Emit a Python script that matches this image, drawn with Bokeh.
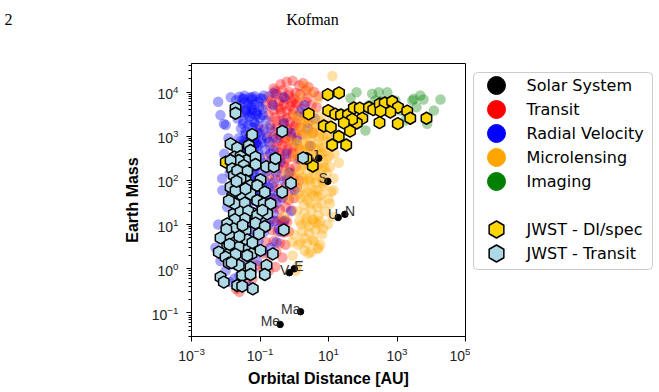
import math

from bokeh.core.properties import value
from bokeh.embed import file_html
from bokeh.layouts import column, row
from bokeh.models import ColumnDataSource, FixedTicker, Range1d
from bokeh.plotting import figure
from bokeh.resources import INLINE

# ---------------------------------------------------------------- data
# Solar System planets: orbital distance [AU], mass [Earth masses]
solar_names = ["Me", "V", "E", "Ma", "J", "S", "U", "N"]
solar_au = [0.387, 0.723, 1.0, 1.524, 5.20, 9.54, 19.2, 30.1]
solar_mass = [0.055, 0.815, 1.0, 0.107, 317.8, 95.2, 14.5, 17.1]

# Known exoplanets by discovery method
transit_au = [
    0.25, 0.4, 0.6, 0.9, 1.4, 2.2,
    0.18, 0.3, 0.45, 0.7, 1.0, 1.5, 2.5,
    0.15, 0.22, 0.35, 0.5, 0.75, 1.1, 1.7,
    0.18, 0.28, 0.42, 0.6, 0.9, 1.3, 2.0,
    0.2, 0.32, 0.48, 0.7, 1.0, 1.5,
    0.16, 0.25, 0.38, 0.55, 0.8, 1.2, 1.8,
    0.2, 0.3, 0.45, 0.65, 0.95, 1.4,
    0.17, 0.26, 0.4, 0.6, 0.9, 1.3,
    0.22, 0.34, 0.5, 0.75, 1.1,
    0.18, 0.28, 0.42, 0.62, 0.95, 1.4,
    0.24, 0.36, 0.55, 0.8, 1.2,
    0.2, 0.3, 0.46, 0.7, 1.0,
    0.25, 0.38, 0.56, 0.85,
    0.32, 0.4, 0.45, 0.55, 0.62, 0.2,
    0.22, 0.33, 0.5, 0.7,
    0.15, 0.25, 0.38, 0.55,
    0.12, 0.2, 0.3, 0.45,
    0.08, 0.12, 0.18, 0.28,
    0.02, 0.025, 0.04, 0.06, 0.03,
    0.04, 0.05, 0.06, 0.08, 0.1, 0.07,
    2.5, 3.5, 2.8, 3.2,
    0.28, 0.45, 0.7, 1.1, 0.22, 0.36, 0.55, 0.85, 1.3, 0.25,
    0.4, 0.62, 0.95, 0.3, 0.48, 0.75, 1.15, 0.26, 0.42, 0.65,
    1.0, 0.33, 0.52, 0.8, 0.36, 0.58, 0.9, 0.3, 0.5, 0.78,
    1.8, 2.6, 3.8, 5.0, 2.2, 3.2, 4.5,
]
transit_mass = [
    12000, 15000, 17000, 18000, 14000, 11000,
    8000, 9000, 7500, 8500, 7000, 9000, 7500,
    5000, 5500, 4500, 5200, 4800, 5500, 4200,
    3000, 2700, 3300, 2600, 3100, 2800, 3000,
    1800, 1600, 1900, 1500, 1700, 1600,
    1000, 950, 1050, 900, 1000, 950, 1100,
    600, 550, 620, 500, 580, 520,
    350, 320, 360, 300, 340, 310,
    200, 190, 210, 180, 200,
    120, 110, 125, 105, 115, 100,
    70, 65, 72, 60, 68,
    40, 38, 42, 36, 40,
    24, 22, 25, 21,
    12, 13, 11, 12.5, 11.5, 13,
    7.5, 7, 6.5, 7,
    4, 4.2, 3.8, 3.5,
    2.2, 2.0, 2.4, 1.8,
    1.2, 1.0, 0.9, 1.1,
    0.35, 0.3, 0.5, 0.6, 0.45,
    500, 1000, 300, 700, 1500, 200,
    2000, 1200, 600, 250,
    10500, 11000, 10000, 9500, 6500, 6200, 6800, 6000, 5800, 3900,
    4100, 3700, 4000, 2200, 2300, 2100, 2000, 1300, 1250, 1350,
    1200, 780, 750, 800, 430, 450, 420, 260, 250, 150,
    16000, 13000, 10000, 8000, 6000, 5000, 4500,
]

rv_au = [
    0.014, 0.034, 0.059, 0.116, 0.13, 0.24, 0.5, 0.006, 0.25,
    0.02, 0.03, 0.045, 0.06, 0.09,
    0.025, 0.04, 0.055, 0.08, 0.12,
    0.022, 0.033, 0.05, 0.07, 0.1, 0.15,
    0.028, 0.038, 0.06, 0.085, 0.13, 0.2,
    0.024, 0.035, 0.05, 0.075, 0.11, 0.18, 0.3,
    0.03, 0.045, 0.065, 0.09, 0.14, 0.25,
    0.026, 0.04, 0.055, 0.08, 0.12, 0.22, 0.4,
    0.032, 0.048, 0.07, 0.1, 0.16, 0.3,
    0.028, 0.042, 0.06, 0.09, 0.14, 0.25, 0.5,
    0.035, 0.05, 0.075, 0.11, 0.2, 0.35,
    0.03, 0.045, 0.065, 0.1, 0.15, 0.3,
    0.038, 0.055, 0.08, 0.12, 0.25,
    0.03, 0.045, 0.07, 0.1, 0.18,
    0.035, 0.055, 0.08, 0.13, 0.04, 0.06, 0.09,
    0.007, 0.01, 0.012, 0.009, 0.013, 0.008, 0.011, 0.0088, 0.0079,
    0.006, 0.008, 0.005, 0.007, 0.01, 0.013,
    0.015, 0.02, 0.025, 0.03, 0.05, 0.04, 0.018, 0.06, 0.08, 0.12,
    0.5, 0.8, 1.2, 0.6, 1.5, 2.5, 0.7, 1.0, 0.45,
    0.8, 0.5, 0.4, 0.3, 0.2, 3.0, 4.0, 2.0, 1.5,
    0.027, 0.036, 0.05, 0.068, 0.095, 0.042, 0.058, 0.078, 0.032, 0.046,
    0.064, 0.088, 0.038, 0.052, 0.072, 0.1, 0.03, 0.044, 0.062, 0.085,
    0.036, 0.05, 0.07, 0.098, 0.028, 0.04, 0.056, 0.076, 0.034, 0.048,
    0.066, 0.09, 0.16, 0.2, 0.28, 0.18, 0.22, 0.14, 0.26, 0.35,
    0.025, 0.035, 0.05, 0.07, 0.1, 0.03, 0.042, 0.06, 0.085, 0.12,
    0.028, 0.04, 0.055, 0.078, 0.11, 0.033, 0.047, 0.066, 0.094, 0.13,
]
rv_mass = [
    7600, 7000, 7600, 7000, 8300, 5000, 7600, 6000, 9500,
    6500, 7000, 5500, 6800, 6000,
    4200, 3800, 4500, 3500, 4100,
    2500, 2200, 2800, 2000, 2600, 2300,
    1500, 1300, 1600, 1200, 1400, 1500,
    900, 800, 950, 700, 850, 750, 900,
    500, 450, 550, 420, 500, 480,
    300, 260, 320, 280, 250, 300, 260,
    170, 150, 180, 140, 160, 150,
    95, 90, 100, 85, 95, 90, 100,
    55, 50, 60, 48, 55, 50,
    32, 30, 35, 28, 33, 30,
    18, 20, 17, 19, 18,
    11, 12, 10, 11, 10,
    6.5, 7, 6, 6.8, 4, 3.8, 4.2,
    3000, 1800, 900, 400, 150, 60, 25, 1900, 110,
    10, 5, 3, 1.5, 0.9, 0.5,
    2, 1.2, 0.7, 0.45, 0.4, 1.5, 0.6, 0.9, 1.5, 2.5,
    2000, 1200, 800, 400, 300, 1500, 150, 60, 40,
    20, 12, 7, 4, 3, 600, 2500, 5000, 3500,
    5000, 5800, 4800, 5200, 4600, 3000, 3300, 2900, 1900, 1800,
    2100, 1700, 1100, 1050, 1000, 1150, 650, 620, 700, 600,
    380, 350, 400, 330, 220, 200, 230, 210, 120, 110,
    125, 115, 900, 400, 250, 70, 40, 20, 12, 8,
    7800, 8200, 7500, 8000, 7200, 3600, 3400, 3900, 3200, 3000,
    780, 720, 820, 680, 700, 75, 70, 80, 65, 72,
]

micro_au = [
    1.5, 3.0, 5.0, 2.0, 13.0,
    1.0, 2.0, 3.5, 6.0, 10.0,
    1.5, 2.5, 4.0, 7.0, 12.0,
    1.2, 2.0, 3.0, 5.0, 8.0, 15.0,
    1.0, 1.8, 2.8, 4.5, 7.0, 11.0,
    1.4, 2.3, 3.6, 5.5, 9.0, 14.0,
    1.1, 1.9, 3.0, 4.8, 7.5, 12.0,
    1.5, 2.5, 3.8, 6.0, 10.0,
    1.2, 2.0, 3.2, 5.0, 8.0, 13.0,
    1.6, 2.7, 4.2, 7.0,
    2.0, 3.5, 1.3, 0.9, 1.1, 1.2, 2.6, 5.0,
    0.6, 0.7, 0.8, 0.5, 14.0, 20.0,
    1.8, 2.9, 4.6, 7.3, 2.2, 3.4, 5.3, 8.5, 1.6, 2.6,
    4.1, 6.5, 10.5, 2.0, 3.1, 4.9, 7.8, 1.7, 2.7, 4.3,
    6.8, 2.4, 3.9, 6.2, 1.9, 3.0, 4.7,
    1.3, 2.1, 3.3, 5.2, 8.2, 1.5, 2.4, 3.7, 5.8, 9.2,
    1.2, 1.9, 3.0, 4.7, 7.4, 1.4, 2.2, 3.5, 5.5, 8.7,
    1.6, 2.5, 4.0, 6.3, 1.1, 1.8, 2.8, 4.4, 6.9, 1.3,
    2.0, 3.2, 5.0, 2.3, 3.6, 5.7, 9.5, 11.0, 1.0, 0.85,
    1.4, 2.2, 3.4, 5.2, 1.7, 2.7, 4.2, 6.5, 1.5, 2.4,
    3.8, 5.8, 2.0, 3.1, 4.8,
]
micro_mass = [
    8000, 10000, 7000, 14000, 23000,
    3000, 2500, 3500, 2800, 2000,
    1500, 1200, 1600, 1000, 900,
    700, 600, 800, 550, 450, 400,
    350, 300, 280, 330, 250, 200,
    160, 140, 170, 120, 150, 110,
    80, 70, 90, 60, 75, 55,
    40, 35, 45, 30, 38,
    20, 18, 22, 16, 20, 15,
    10, 9, 11, 8,
    5, 4.5, 3.5, 2, 0.9, 1.1, 2.2, 3,
    150, 40, 800, 15, 60, 250,
    1900, 2100, 1800, 1500, 1000, 1100, 950, 750, 500, 450,
    520, 400, 350, 230, 250, 210, 190, 120, 110, 130,
    100, 55, 60, 48, 28, 30, 25,
    2600, 2300, 2500, 2200, 1800, 1300, 1400, 1250, 1150, 1000,
    650, 700, 620, 680, 560, 380, 420, 360, 400, 300,
    210, 230, 200, 180, 130, 95, 100, 90, 85, 50,
    45, 52, 42, 14, 13, 12, 10, 30, 6, 4,
    12, 11, 13, 10, 7, 6.5, 7.5, 6, 4, 3.8,
    4.2, 3.5, 2.6, 2.4, 2.8,
]

imaging_au = [66, 189, 294, 518, 3100, 5940, 18600, 11900, 7600, 120, 3700, 2800, 395,
              724, 900, 1270, 235, 44, 1750, 4800, 600, 150, 450, 600, 500, 350]
imaging_mass = [9900, 9100, 9900, 9900, 7020, 6770, 6770, 3810, 1910, 1345, 4530, 6430, 5410,
                5880, 6430, 3820, 6430, 7200, 2270, 8300, 4800, 5000, 6000, 5200, 4600, 6200]

# JWST targets: direct imaging / spectroscopy
jwst_di_au = [9.5, 20.3, 2.64, 9.8, 15.7, 23.2, 37.1, 54.8, 82, 152, 203, 313, 437, 724,
              1070, 1990, 7260, 2440, 1055, 637, 330, 308, 97, 67, 49, 28, 42.5, 7.3,
              11.7, 19.9, 12.8, 32.9, 3.48, 2.28, 0.01]
jwst_di_mass = [8770, 9600, 3210, 3780, 3150, 3020, 3060, 4350, 4300, 4460, 3980, 5410, 5640, 6100,
                4510, 3680, 2550, 2550, 1920, 3490, 3680, 2020, 2540, 1990, 2410, 2010, 1300, 1700,
                1600, 985, 632, 632, 212, 313, 258]

# JWST targets: transit
jwst_tr_au = [
    0.0193, 0.0193, 0.0591, 0.445, 0.0138, 0.0216, 0.0471, 0.0528, 0.018, 0.027,
    0.0404, 0.074, 0.024, 0.0337, 0.074, 0.152, 0.253, 0.284, 1.82, 0.027,
    0.0423, 0.1035, 0.0378, 0.80, 0.0528, 0.0828, 0.445, 0.138, 0.0154, 0.0302,
    0.0528, 0.0138, 0.0154, 0.0172, 0.0216, 0.027, 0.0138, 0.0193, 0.0378, 0.0828,
    0.129, 0.203, 0.024, 0.0172, 0.0337, 0.0659, 0.162, 0.0184, 0.036, 0.027,
    0.0452, 0.0828, 0.036, 0.0184, 0.074, 0.138, 0.011, 0.0172, 0.0378, 0.0923,
    0.495, 0.00703, 0.0138, 0.0193, 0.0423, 0.011, 0.024, 0.0471, 0.00626, 0.0123,
    0.0193, 0.0565, 0.237, 0.00984, 0.0423, 0.0123, 0.024, 0.0528, 0.155, 0.0302,
    0.0528, 0.138, 0.00703, 0.00877, 0.0216, 0.0302, 0.0617, 0.031, 0.060, 0.0128,
    0.025, 0.118, 0.0104, 0.0206, 0.0123, 0.1035, 0.0148,
]
jwst_tr_mass = [
    4300, 3310, 1090, 1280, 673, 547, 616, 475, 335, 347,
    282, 335, 282, 217, 229, 206, 206, 313, 325, 153,
    161, 103, 99.5, 86.5, 76.7, 76.7, 54.1, 54.1, 43.2, 45.5,
    49.7, 282, 183, 129, 167, 109, 70.2, 59.1, 64.6, 35.1,
    29.6, 29.6, 24.8, 17.5, 16.1, 17.5, 17.5, 29.6, 30.5, 19.1,
    20.1, 16.1, 13.5, 12.9, 10.8, 9.06, 10.4, 8.04, 7.36, 6.19,
    7.62, 5.03, 5.38, 4.00, 4.53, 3.08, 3.08, 2.83, 2.38, 2.18,
    2.11, 2.18, 2.18, 1.83, 2.00, 1.34, 1.19, 1.09, 1.19, 0.705,
    0.743, 0.743, 0.646, 0.498, 0.419, 0.404, 0.353, 9.6, 3.9, 3.55,
    5.4, 21, 7.8, 95, 35, 2.6, 1.38,
]

legend_labels = ["Solar System", "Transit", "Radial Velocity", "Microlensing", "Imaging",
                 "JWST - DI/spec", "JWST - Transit"]

# ---------------------------------------------------------------- styles
RED, BLUE, ORANGE, GREEN = "#ff0000", "#0000ff", "#ffa500", "#008000"
GOLD, LIGHTBLUE = "#ffd700", "#add8e6"
SANS = "Liberation Sans"
CLOUD_ALPHA = 0.35
HEADER_H = 30


def bare(fig):
    fig.outline_line_color = None
    fig.xgrid.visible = False
    fig.ygrid.visible = False
    fig.background_fill_color = "white"
    fig.border_fill_color = "white"


# ---------------------------------------------------------------- running header
header = figure(width=659, height=HEADER_H, x_range=Range1d(0, 659), y_range=Range1d(HEADER_H, 0),
                output_backend="svg", toolbar_location=None, min_border=0,
                x_axis_location=None, y_axis_location=None)
bare(header)
header.text(x=[4], y=[19], text=["2"], text_baseline="alphabetic",
            text_font=value("Liberation Serif"), text_font_size="16px", text_color="black")
header.text(x=[312], y=[19], text=["Kofman"], text_baseline="alphabetic", text_align="center",
            text_font=value("Liberation Serif"), text_font_size="16px", text_color="black")

# ---------------------------------------------------------------- main panel
p = figure(
    width=470, height=392 - HEADER_H,
    x_axis_type="log", y_axis_type="log",
    x_range=Range1d(1e-3, 1e5), y_range=Range1d(10 ** -1.532, 10 ** 4.645),
    output_backend="svg", toolbar_location=None,
    min_border_left=191, min_border_right=5, min_border_top=63 - HEADER_H, min_border_bottom=56,
)
p.background_fill_color = "white"
p.border_fill_color = "white"
p.xgrid.visible = False
p.ygrid.visible = False
p.outline_line_color = "black"
p.outline_line_alpha = 1.0
p.outline_line_width = 1

p.xaxis.ticker = FixedTicker(ticks=[1e-3, 1e-1, 1e1, 1e3, 1e5], minor_ticks=[])
p.yaxis.ticker = FixedTicker(
    ticks=[1e-1, 1e0, 1e1, 1e2, 1e3, 1e4],
    minor_ticks=[m * 10.0 ** k for k in range(-2, 5) for m in range(2, 10)],
)
for ax in (p.xaxis[0], p.yaxis[0]):
    ax.axis_line_color = "black"
    ax.major_tick_line_color = "black"
    ax.minor_tick_line_color = "black"
    ax.major_tick_in = 0
    ax.major_tick_out = 5
    ax.minor_tick_in = 0
    ax.minor_tick_out = 3
    ax.major_label_text_font = SANS
    ax.major_label_text_font_size = "14px"
    ax.major_label_text_color = "#222222"
    ax.axis_label_text_font = SANS
    ax.axis_label_text_font_size = "16px"
    ax.axis_label_text_font_style = "bold"
    ax.axis_label_text_color = "black"
p.xaxis.axis_label = "Orbital Distance [AU]"
p.yaxis.axis_label = "Earth Mass"
p.xaxis.major_label_standoff = 5
p.yaxis.major_label_standoff = 8
p.xaxis.axis_label_standoff = 6
p.yaxis.axis_label_standoff = 8

# exoplanet clouds
for xs, ys, col in ((transit_au, transit_mass, RED),
                    (rv_au, rv_mass, BLUE),
                    (micro_au, micro_mass, ORANGE),
                    (imaging_au, imaging_mass, GREEN)):
    p.scatter(x=xs, y=ys, size=10.5, marker="circle",
              fill_color=col, fill_alpha=CLOUD_ALPHA, line_color=None)

# JWST targets (pointy-top hexagons)
p.scatter(x=jwst_di_au, y=jwst_di_mass, marker="hex", angle=math.pi / 6, size=12,
          fill_color=GOLD, line_color="black", line_width=1.5)
p.scatter(x=jwst_tr_au, y=jwst_tr_mass, marker="hex", angle=math.pi / 6, size=12,
          fill_color=LIGHTBLUE, line_color="black", line_width=1.5)

# Solar System
p.scatter(x=solar_au, y=solar_mass, size=6.5, marker="circle", color="black")
left_labelled = {"E", "N"}
src_r = ColumnDataSource(dict(
    x=[a for a, n in zip(solar_au, solar_names) if n not in left_labelled],
    y=[m for m, n in zip(solar_mass, solar_names) if n not in left_labelled],
    t=[n for n in solar_names if n not in left_labelled]))
src_l = ColumnDataSource(dict(
    x=[a for a, n in zip(solar_au, solar_names) if n in left_labelled],
    y=[m for m, n in zip(solar_mass, solar_names) if n in left_labelled],
    t=[n for n in solar_names if n in left_labelled]))
for src, align in ((src_r, "right"), (src_l, "left")):
    p.text(x="x", y="y", text="t", source=src, text_align=align,
           text_baseline="alphabetic", y_offset=-3,
           text_font=value(SANS), text_font_size="14px", text_color="#333333")

# ---------------------------------------------------------------- legend panel
# frame shares top/bottom borders with the main panel; y runs in page pixels
lg = figure(width=189, height=392 - HEADER_H, x_range=Range1d(0, 189), y_range=Range1d(336, 63),
            output_backend="svg", toolbar_location=None,
            min_border_left=0, min_border_right=0,
            min_border_top=63 - HEADER_H, min_border_bottom=56,
            x_axis_location=None, y_axis_location=None)
bare(lg)

lg.quad(left=[3], right=[182], top=[72], bottom=[269], fill_color="white",
        line_color="#cccccc", line_width=1, border_radius=4)

row_y = [85 + 24 * i for i in range(5)] + [229, 253]
lg.scatter(x=[26] * 5, y=row_y[:5], size=18, marker="circle",
           color=["black", RED, BLUE, ORANGE, GREEN])
lg.scatter(x=[26, 26], y=row_y[5:], marker="hex", angle=math.pi / 6, size=17,
           fill_color=[GOLD, LIGHTBLUE], line_color="black", line_width=1.5)
lg.text(x=[56] * 7, y=row_y, text=legend_labels, text_baseline="middle",
        text_font=value("DejaVu Sans"), text_font_size="16px", text_color="black")

layout = column(header, row(p, lg))
open("out.html", "w").write(file_html(layout, INLINE))
